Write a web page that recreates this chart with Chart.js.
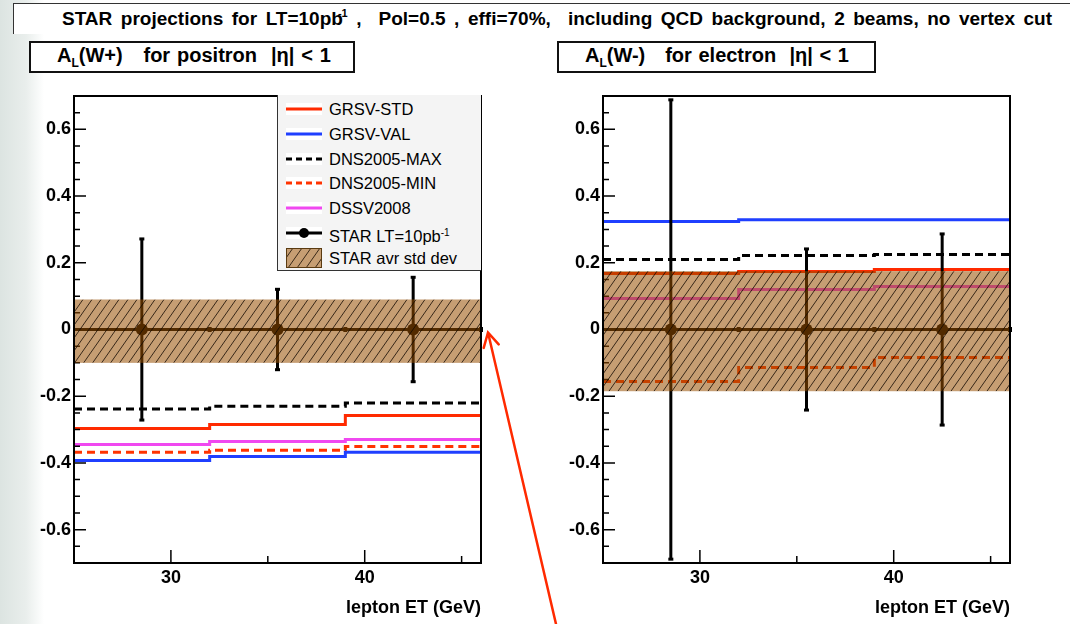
<!DOCTYPE html>
<html>
<head>
<meta charset="utf-8">
<script src="https://cdn.jsdelivr.net/npm/chart.js@4.4.1/dist/chart.umd.min.js"></script>
<style>
  html, body { margin: 0; padding: 0; }
  body {
    width: 1070px; height: 624px; position: relative; overflow: hidden;
    font-family: "Liberation Sans", Arial, sans-serif;
    background: linear-gradient(to right, #dce4e1 0px, #e9eeec 26px, #ffffff 44px);
  }
  .abs { position: absolute; }
  #titleBox { left: 13px; top: 3px; width: 1057px; height: 30px; background: #fff;
    border-top: 1.5px solid #333; border-left: 1.5px solid #333; }
  #title { left: 62px; top: 7px; font-weight: bold; font-size: 19px; white-space: pre; color: #000; }
  #title sup { font-size: 11px; vertical-align: 8px; margin-left: -5px; }
  .pbox { top: 41px; height: 28px; background: #fff; border: 2px solid #111; }
  .ptxt { top: 44px; font-weight: bold; font-size: 20px; white-space: pre; }
  .ptxt sub { font-size: 12px; vertical-align: -5px; }
  #legend { left: 277px; top: 95px; width: 203px; height: 175px; background: #f4f4f4;
    border-left: 1px solid #333; border-bottom: 1px solid #333; }
  .lrow { position: absolute; left: 0; height: 20px; width: 200px; }
  .lrow svg { position: absolute; left: 8px; top: 0; }
  .lrow span { position: absolute; left: 51px; top: 0; line-height: 20px; font-size: 16.5px; white-space: pre; }
  .lrow sup { font-size: 10px; vertical-align: 6px; }
  canvas { position: absolute; }
</style>
</head>
<body>
<canvas id="cL" width="535" height="544" style="left:0;top:80px"></canvas>
<canvas id="cR" width="535" height="544" style="left:535px;top:80px"></canvas>

<div id="titleBox" class="abs"></div>
<div id="title" class="abs">STAR projections for LT=10pb<sup>-1</sup> ,  Pol=0.5 , effi=70%,  including QCD background, 2 beams, no vertex cut</div>

<div class="abs pbox" style="left:29px;width:322px"></div>
<div id="ptL" class="abs ptxt" style="left:57px">A<sub>L</sub>(W+)   for positron  |η| &lt; 1</div>
<div class="abs pbox" style="left:557px;width:315px"></div>
<div id="ptR" class="abs ptxt" style="left:585px">A<sub>L</sub>(W-)   for electron  |η| &lt; 1</div>

<div id="legend" class="abs"></div>
<canvas id="ov" width="1070" height="624" style="left:0;top:0;pointer-events:none"></canvas>

<script>
// bins in lepton ET (GeV)
const binEdges = [25, 32, 39, 46];
const binCenters = [28.5, 35.5, 42.5];
const xTickValues = [30, 40];
const xMinorTicks = [35, 45];
const yTickValues = [-0.6, -0.4, -0.2, 0, 0.2, 0.4, 0.6];

// A_L(W+), positron
const posGrsvStd = [-0.297, -0.285, -0.258];
const posGrsvVal = [-0.393, -0.381, -0.368];
const posDnsMax = [-0.238, -0.230, -0.220];
const posDnsMin = [-0.368, -0.362, -0.351];
const posDssv = [-0.345, -0.336, -0.330];
const posStar = [0, 0, 0];
const posStarErr = [0.273, 0.122, 0.158];
const posBand = [-0.10, 0.09];

// A_L(W-), electron
const eleGrsvStd = [0.168, 0.174, 0.180];
const eleGrsvVal = [0.324, 0.329, 0.329];
const eleDnsMax = [0.210, 0.222, 0.225];
const eleDnsMin = [-0.156, -0.114, -0.084];
const eleDssv = [0.093, 0.120, 0.129];
const eleStar = [0, 0, 0];
const eleStarErr = [0.69, 0.243, 0.288];
const eleBand = [-0.185, 0.175];

const RED = '#ff2a00', BLUE = '#1f3fff', MAGENTA = '#f048f0', ORANGE = '#ff3300';
const BAND_FILL = 'rgba(151,78,0,0.55)';
const DASH = [8, 5];

function stepPoints(vals) {
  return binEdges.map((e, i) => ({ x: e, y: vals[Math.min(i, vals.length - 1)] }));
}

function lineSet(label, vals, color, dash) {
  return {
    label: label, data: stepPoints(vals), borderColor: color, borderWidth: 3,
    borderDash: dash || [], stepped: true, pointRadius: 0, fill: false
  };
}

const rootFrame = {
  id: 'rootFrame',
  afterDatasetsDraw(chart, args, opts) {
    const ctx = chart.ctx, a = chart.chartArea, x = chart.scales.x, y = chart.scales.y;
    ctx.save();

    // STAR error bars
    const star = chart.data.datasets.find(d => d.errY);
    ctx.strokeStyle = '#000';
    ctx.fillStyle = '#000';
    ctx.lineWidth = 3;
    star.data.forEach((p, i) => {
      const px = x.getPixelForValue(p.x), py = y.getPixelForValue(p.y);
      const hi = y.getPixelForValue(p.y + star.errY[i]);
      const lo = y.getPixelForValue(p.y - star.errY[i]);
      const xl = x.getPixelForValue(binEdges[i]), xr = x.getPixelForValue(binEdges[i + 1]);
      ctx.beginPath();
      ctx.moveTo(px, hi); ctx.lineTo(px, lo);
      ctx.moveTo(xl, py); ctx.lineTo(xr, py);
      ctx.stroke();
      ctx.fillRect(px - 2.5, hi - 1, 5, 3);
      ctx.fillRect(px - 2.5, lo - 2, 5, 3);
      ctx.fillRect(xr - 2, py - 2.5, 4, 5);
    });

    // inward ticks
    ctx.lineWidth = 1.5;
    ctx.beginPath();
    for (let k = -14; k <= 14; k++) {
      const v = k * 0.05, py = y.getPixelForValue(v);
      const major = yTickValues.some(t => Math.abs(t - v) < 1e-6);
      ctx.moveTo(a.left, py); ctx.lineTo(a.left + (major ? 12 : 6), py);
    }
    xTickValues.forEach(v => { const px = x.getPixelForValue(v); ctx.moveTo(px, a.bottom); ctx.lineTo(px, a.bottom - 13); });
    xMinorTicks.forEach(v => { const px = x.getPixelForValue(v); ctx.moveTo(px, a.bottom); ctx.lineTo(px, a.bottom - 7); });
    ctx.stroke();

    // STAR average std dev band, hatched
    const top = y.getPixelForValue(opts.band[1]), bot = y.getPixelForValue(opts.band[0]);
    ctx.fillStyle = BAND_FILL;
    ctx.fillRect(a.left, top, a.right - a.left, bot - top);
    ctx.save();
    ctx.beginPath();
    ctx.rect(a.left, top, a.right - a.left, bot - top);
    ctx.clip();
    ctx.strokeStyle = 'rgba(20,10,0,0.8)';
    ctx.lineWidth = 1;
    const h = bot - top, slope = 0.7;
    ctx.beginPath();
    for (let sx = a.left - h * slope; sx < a.right; sx += 9) {
      ctx.moveTo(sx, bot); ctx.lineTo(sx + h * slope, top);
    }
    ctx.stroke();
    ctx.restore();

    // frame
    ctx.strokeStyle = '#000';
    ctx.lineWidth = 2;
    ctx.strokeRect(a.left, a.top, a.right - a.left, a.bottom - a.top);
    ctx.restore();
  }
};

function makeChart(id, s, yAxisWidth, padRight) {
  const datasets = [
    lineSet('GRSV-STD', s.std, RED),
    lineSet('GRSV-VAL', s.val, BLUE),
    lineSet('DNS2005-MAX', s.max, '#000', DASH),
    lineSet('DNS2005-MIN', s.min, ORANGE, DASH),
    lineSet('DSSV2008', s.dssv, MAGENTA),
    {
      label: 'STAR', data: binCenters.map((c, i) => ({ x: c, y: s.star[i] })), errY: s.err,
      showLine: false, pointRadius: 6, pointBackgroundColor: '#000', pointBorderWidth: 0
    }
  ];
  const tickFont = { family: '"Liberation Sans", Arial, sans-serif', size: 18, weight: 'bold' };
  return new Chart(document.getElementById(id), {
    type: 'line',
    data: { datasets: datasets },
    options: {
      responsive: false,
      animation: false,
      events: [],
      layout: { padding: { left: 0, top: 16, right: padRight, bottom: 0 } },
      plugins: {
        legend: { display: false },
        tooltip: { enabled: false },
        rootFrame: { band: s.band }
      },
      scales: {
        x: {
          type: 'linear', min: 25, max: 46,
          grid: { display: false, drawTicks: false },
          border: { display: false },
          afterBuildTicks: axis => { axis.ticks = xTickValues.map(v => ({ value: v })); },
          afterFit: scale => { scale.height = 61; },
          ticks: { color: '#000', font: tickFont, padding: 4, maxRotation: 0 },
          title: {
            display: true, text: 'lepton ET (GeV)', align: 'end', color: '#000',
            font: tickFont, padding: { top: 0, bottom: 5 }
          }
        },
        y: {
          min: -0.7, max: 0.7,
          grid: { display: false, drawTicks: false },
          border: { display: false },
          afterBuildTicks: axis => { axis.ticks = yTickValues.map(v => ({ value: v })); },
          afterFit: scale => { scale.width = yAxisWidth; },
          ticks: {
            color: '#000', font: tickFont, padding: 3,
            callback: v => (Math.abs(v) < 1e-9 ? '0' : String(Math.round(v * 10) / 10))
          }
        }
      }
    },
    plugins: [rootFrame]
  });
}

const leftChart = makeChart('cL', {
  std: posGrsvStd, val: posGrsvVal, max: posDnsMax, min: posDnsMin, dssv: posDssv,
  star: posStar, err: posStarErr, band: posBand
}, 74, 54);

makeChart('cR', {
  std: eleGrsvStd, val: eleGrsvVal, max: eleDnsMax, min: eleDnsMin, dssv: eleDssv,
  star: eleStar, err: eleStarErr, band: eleBand
}, 68, 60);

// legend (ROOT style box in the left panel)
const legendItems = [
  { text: 'GRSV-STD', color: RED },
  { text: 'GRSV-VAL', color: BLUE },
  { text: 'DNS2005-MAX', color: '#000', dash: true },
  { text: 'DNS2005-MIN', color: ORANGE, dash: true },
  { text: 'DSSV2008', color: MAGENTA },
  { text: 'STAR LT=10pb<sup>-1</sup>', color: '#000', marker: true },
  { text: 'STAR avr std dev', band: true }
];
const legend = document.getElementById('legend');
legendItems.forEach((it, i) => {
  let svg;
  if (it.band) {
    svg = '<svg width="36" height="20"><defs><pattern id="hat" width="9" height="20" patternUnits="userSpaceOnUse">' +
      '<line x1="-7" y1="20" x2="7" y2="0" stroke="rgba(20,10,0,0.8)" stroke-width="1"/>' +
      '<line x1="2" y1="20" x2="16" y2="0" stroke="rgba(20,10,0,0.8)" stroke-width="1"/></pattern></defs>' +
      '<rect x="0.5" y="0.5" width="35" height="19" fill="#fff"/>' +
      '<rect x="0.5" y="0.5" width="35" height="19" fill="' + BAND_FILL + '"/>' +
      '<rect x="0.5" y="0.5" width="35" height="19" fill="url(#hat)" stroke="#5a3a10" stroke-width="1"/></svg>';
  } else {
    const dash = it.dash ? ' stroke-dasharray="6,4"' : '';
    const mk = it.marker ? '<circle cx="18" cy="10" r="5" fill="#000"/>' : '';
    svg = '<svg width="36" height="20"><rect x="0" y="4" width="36" height="12" fill="#fff"/>' +
      '<line x1="0" y1="10" x2="36" y2="10" stroke="' + it.color + '" stroke-width="3"' + dash + '/>' + mk + '</svg>';
  }
  const row = document.createElement('div');
  row.className = 'lrow';
  row.style.top = (4 + i * 24.8) + 'px';
  row.innerHTML = svg + '<span>' + it.text + '</span>';
  legend.appendChild(row);
});

// stretch word spacing of the headings to the reference widths
function fitWidth(id, target) {
  const el = document.getElementById(id);
  const w = el.getBoundingClientRect().width;
  const spaces = (el.textContent.match(/ /g) || []).length;
  if (spaces) el.style.wordSpacing = ((target - w) / spaces) + 'px';
}
fitWidth('title', 990);
fitWidth('ptL', 274);
fitWidth('ptR', 264);

// red annotation arrow pointing at the W+ band
const ov = document.getElementById('ov').getContext('2d');
const ca = leftChart.chartArea;
const tipX = ca.right + 7, tipY = 80 + leftChart.scales.y.getPixelForValue(0) + 3;
const tailX = tipX + 68, tailY = 624;
const ang = Math.atan2(tailY - tipY, tailX - tipX);
ov.strokeStyle = '#ff2a00';
ov.lineWidth = 2.5;
ov.lineCap = 'round';
ov.beginPath();
ov.moveTo(tailX, tailY); ov.lineTo(tipX, tipY);
ov.moveTo(tipX + 16 * Math.cos(ang - 0.5), tipY + 16 * Math.sin(ang - 0.5));
ov.lineTo(tipX, tipY);
ov.lineTo(tipX + 16 * Math.cos(ang + 0.5), tipY + 16 * Math.sin(ang + 0.5));
ov.stroke();
</script>
</body>
</html>
